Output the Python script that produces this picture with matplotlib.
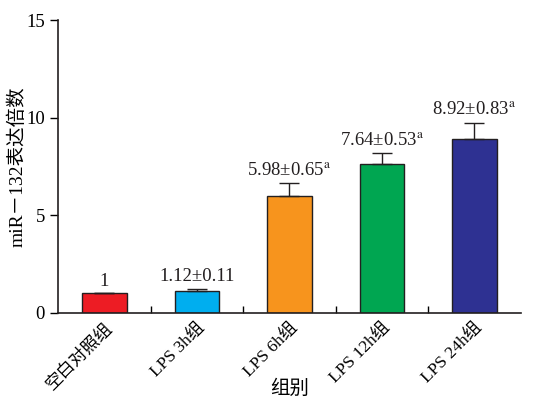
import matplotlib
matplotlib.use("Agg")
import numpy as np
import matplotlib.pyplot as plt
from matplotlib.ticker import FixedLocator

plt.rcParams.update({
    "font.family": ["Liberation Serif", "Noto Sans CJK SC"],
    "mathtext.fontset": "stix",
    "font.size": 12,
})

# ---- data -----------------------------------------------------------------
groups = ["空白对照组", "LPS 3h组", "LPS 6h组", "LPS 12h组", "LPS 24h组"]
means = [1.0, 1.12, 5.98, 7.64, 8.92]
sds = [0.0, 0.11, 0.65, 0.53, 0.83]
labels = ["1", "1.12±0.11", "5.98±0.65$^{\\mathrm{a}}$",
          "7.64±0.53$^{\\mathrm{a}}$", "8.92±0.83$^{\\mathrm{a}}$"]
colors = ["#ed1c24", "#00aeef", "#f7941d", "#00a651", "#2e3192"]

fig = plt.figure(figsize=(5.33, 3.98), dpi=100)
ax = fig.add_axes([0.109, 0.2136, 0.868, 0.7361])

x = np.arange(len(groups))
yerr = [[0] * len(sds), sds]
ax.bar(x, means, width=0.48, color=colors, edgecolor="#231f20", linewidth=1.0,
       yerr=yerr, error_kw=dict(ecolor="#231f20", elinewidth=1.0, capsize=7,
                                capthick=1.0), zorder=2)

for xi, m, s, lab in zip(x, means, sds, labels):
    ax.text(xi, m + s + 0.2, lab, ha="center", va="bottom", fontsize=13.5,
            color="#231f20")

ax.set_xlim(-0.5, len(groups) - 0.5)
ax.set_ylim(0, 15)
ax.set_yticks([0, 5, 10, 15])
ax.set_xticks(x)
ax.set_xticklabels(groups, rotation=45, ha="right", va="top",
                   rotation_mode="anchor", fontsize=12.5)
ax.xaxis.set_minor_locator(FixedLocator(x[:-1] + 0.5))
ax.tick_params(axis="x", which="major", length=0, pad=5)
ax.tick_params(axis="x", which="minor", direction="in", length=5, width=1.0)
ax.tick_params(axis="y", direction="out", length=6, width=1.0, labelsize=13.5)

for side in ["top", "right"]:
    ax.spines[side].set_visible(False)
for side in ["left", "bottom"]:
    ax.spines[side].set_linewidth(1.2)
    ax.spines[side].set_color("#231f20")

ax.set_ylabel("miR－132表达倍数", fontsize=14)
ax.yaxis.set_label_coords(-0.068, 0.5)
ax.set_xlabel("组别", fontsize=14)
ax.xaxis.set_label_coords(0.5, -0.226)

fig.savefig("out.png", dpi=100)
